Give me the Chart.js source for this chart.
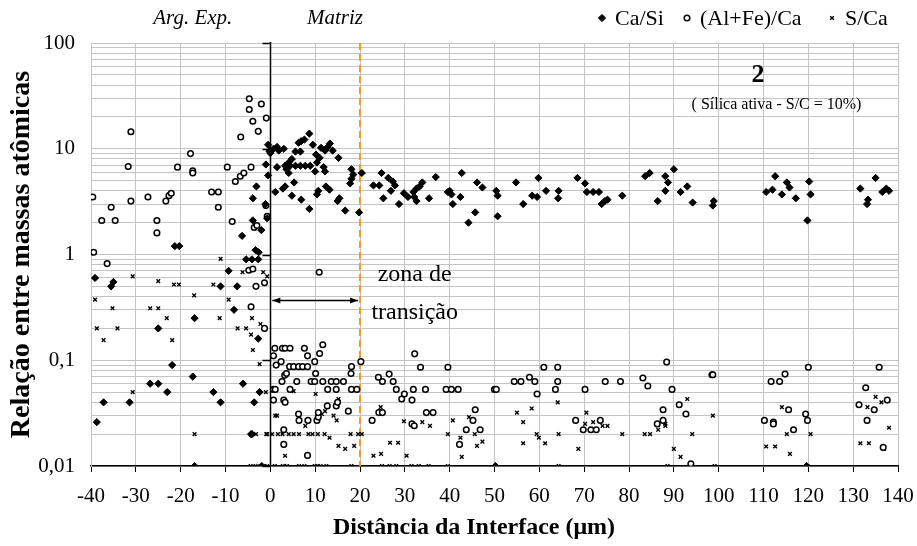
<!DOCTYPE html>
<html>
<head>
<meta charset="utf-8">
<script src="https://cdn.jsdelivr.net/npm/chart.js@4.4.1/dist/chart.umd.min.js"></script>
<style>
  html, body { margin: 0; padding: 0; background: #fff; }
</style>
</head>
<body>
<canvas id="chart" width="917" height="546"></canvas>
<script>
// Ca/Si (filled diamonds)
const caSiX = [-39.1,-38.7,-37.2,-35.5,-35,-31.4,-26.8,-25,-25,-23,-21.9,-21.3,-20.3,-17.3,-16.9,-16.9,-12.7,-11.1,-11.1,-9.3,-8.1,-7.4,-6.3,-6.1,-5.4,-4.1,-4.3,-4.1,-3.9,-3.9,-3.6,-3.3,-3.1,-2.7,-2.7,-2.6,-2.4,-2,-1.9,-1.1,-1,-0.7,-0.5,-0.5,-0.2,0,
  0.7,1.1,1.5,1.5,1.9,2.8,3,3.3,3.3,3.6,4.1,4.1,4.4,4.8,4.8,5.3,5.6,5.6,6.3,6.7,6.7,6.9,6.9,7.6,7.8,8.7,8.7,8.9,9.5,10,10.2,10.4,10.4,10.7,11,11.3,11.9,12.2,12.2,12.4,12.8,13.2,13.3,13.9,15,15.2,15.4,16.7,17.8,18.1,18.1,18.5,19.8,20.4,23,24.3,
  24.8,25.2,26.3,26.9,27.3,27.8,28.7,29.8,30.7,31.9,32.1,32.6,32.6,33.3,33.9,35.4,36.9,39.6,40,40.4,40.7,42.4,42.7,44.2,45.7,46.1,47.3,50.4,50.7,50.7,50.2,54.8,56.4,58.4,59.5,59.8,61.5,64.3,64.2,68.5,70.2,70.6,72,73.3,73.9,74.6,75.2,78.5,83.6,84.6,86.4,88.1,88.1,88.7,90,91.5,93,94.2,98.9,98.7,110.6,112,112.6,114.1,115.2,115.8,117.2,119.8,119.6,120.2,120.5,131.6,133.1,133.3,135,136.5,137.4,138];
const caSiY = [0.6,0.026,0.04,0.5,0.55,0.04,0.06,0.2,0.06,0.05,0.09,1.2,1.2,0.07,0.25,0.01,0.05,0.5,0.04,0.7,0.3,0.5,1.5,0.06,0.9,0.9,0.02,0.02,2.1,3.4,0.04,1.1,4.4,0.9,0.16,1.05,0.05,1.7,0.01,3.0,7.1,2.2,5.6,10.9,9.5,9.1,
  10,3.9,10.4,6.7,9.6,4.2,10,4.4,6.9,6.4,7.4,5.9,6.9,8,3.6,4.8,9.4,6.9,11.4,9.4,6.9,11.8,3.3,12.2,6.9,13.9,2.7,6.9,10.9,6.1,8.8,7.4,3.7,4.0,8.2,10.2,6.7,9.6,6.1,4.4,10.4,4.1,11.2,9.6,3.2,8.2,3.4,2.6,4.7,6.4,5.2,5.7,2.5,5.9,4.5,4.5,
  5.9,3.4,5.3,4.0,4.9,4.5,3.0,3.8,3.5,3.9,3.5,4.2,3.2,4.4,4.8,3.4,5.4,3.9,4.0,3.7,3.0,3.5,5.9,2.0,2.5,4.8,4.3,4.0,3.6,2.3,0.01,4.8,3.0,3.6,3.5,5.3,4.0,4.0,3.4,5.3,4.7,3.9,3.9,3.9,3.0,3.2,3.3,3.6,5.5,5.9,3.2,5.5,4.0,4.8,6.4,3.9,4.4,3.1,3.2,2.9,3.9,4.1,5.5,3.7,4.8,4.3,3.4,2.1,0.01,4.9,3.7,4.2,3.0,3.3,5.3,3.9,4.2,4.0];

// (Al+Fe)/Ca (open circles)
const alFeX = [-39.6,-39.4,-37.6,-36.4,-35.5,-34.6,-31.7,-31.1,-31.1,-27.3,-25.3,-25.3,-23.3,-22.6,-22.1,-20.7,-17.8,-17.3,-17.3,-13.1,-11.6,-11.6,-9.6,-8.5,-7.8,-6.7,-6.6,-5.9,-4.8,-4.7,-4.7,-4.3,-4.3,-3.9,-3.9,-3.6,-3.2,-3,-2.7,-2,-1.3,-1.3,-1,-0.9,-0.7,
  0.7,0.7,0.7,1,1.1,1.3,2.4,2.6,2.7,3,3,3,3.2,3.3,3.3,3.6,4.3,4.4,4.4,5.2,5.9,6.3,6.3,6.4,7.2,7.6,8.3,8.3,8.3,8.4,9.1,9.9,9.9,10.1,10.4,10.7,10.7,10.9,11,11.7,11.7,12.7,12.8,13.6,14.7,14.7,14.7,15,16.3,17.4,18,18.1,18.1,19.3,20.2,22.7,
  24.1,24.2,25,25,26.5,27.4,28.1,29.3,29.9,31.6,31.6,31.9,32.1,32.2,33.5,34.6,34.8,36.3,39.2,39.6,40.4,41.9,42.2,43.7,45.2,45.7,46.8,50,50.4,54.4,55.9,57.8,59,59.5,61,63.6,64.1,64.1,68.1,69.8,70.2,71.5,72.7,73.6,74.7,78.1,83.1,84.2,86.3,87.6,87.6,88.4,89.6,91.2,92.7,93.8,98.5,98.7,110.2,111.7,112.2,112.2,113.6,114.8,115.6,116.7,119.4,119.8,120,131.3,132.8,133.1,134.7,135.8,136.7,137.6];
const alFeY = [3.5,1.05,2.1,0.82,2.8,2.1,6.8,14.5,3.2,3.5,2.1,1.6,3.2,3.6,3.8,6.7,9.0,6.2,5.9,3.9,3.9,2.8,6.7,2.05,4.9,5.5,12.9,5.9,0.71,29.7,23.5,6.7,0.32,18.2,0.73,1.8,0.5,1.88,14.6,26.5,0.54,0.2,2.9,19.5,2.3,
  0.11,0.053,0.042,0.13,0.053,0.09,0.097,0.063,0.13,0.042,0.022,0.016,0.072,0.13,0.04,0.075,0.087,0.13,0.053,0.087,0.063,0.087,0.031,0.027,0.087,0.13,0.11,0.087,0.0126,0.027,0.063,0.097,0.063,0.075,0.027,0.029,0.032,0.68,0.116,0.14,0.063,0.037,0.053,0.063,0.063,0.053,0.037,0.04,0.063,0.033,0.075,0.087,0.053,0.053,0.097,0.027,
  0.069,0.032,0.063,0.032,0.074,0.063,0.053,0.043,0.048,0.042,0.025,0.053,0.024,0.115,0.086,0.053,0.032,0.032,0.053,0.086,0.053,0.053,0.016,0.022,0.027,0.034,0.022,0.053,0.053,0.063,0.063,0.069,0.063,0.048,0.086,0.053,0.086,0.063,0.027,0.022,0.053,0.022,0.022,0.027,0.063,0.063,0.068,0.057,0.025,0.034,0.027,0.096,0.053,0.038,0.031,0.0105,0.073,0.073,0.027,0.063,0.026,0.025,0.063,0.074,0.034,0.022,0.031,0.027,0.086,0.038,0.055,0.027,0.034,0.086,0.015,0.042];

// S/Ca (crosses)
const sCaX = [-39.1,-38.7,-37.2,-35.2,-34.1,-30.7,-30.7,-26.8,-25,-25,-23.1,-21.9,-21.5,-20.4,-17,-16.9,-12.7,-11.3,-11.1,-9.3,-7.3,-6.2,-5.4,-4.4,-4.3,-4.1,-3.9,-3.3,-3.2,-2.4,-2.2,-2.2,-1.6,-1.5,-1,-0.9,-0.7,-0.7,-0.7,
  0.4,1,1.1,1.5,1.7,2.7,2.8,3.3,3.7,4.1,5.2,5.2,6.4,6.4,7.6,7.8,8.1,8.5,9.4,9.9,10.1,10.4,10.4,10.6,11.2,11.5,12.1,12.2,12.5,13.2,14.1,14.8,15.2,15.2,16.7,17.9,18.1,18.7,19.6,20.4,
  23,24.6,24.7,24.9,26.6,26.7,28.1,28.5,29.8,30.4,31.5,33.1,33.9,35.3,35.6,39.6,39.6,40.7,42.4,42.7,44.3,45.6,46.1,47.3,50.2,55,56.4,56.4,58.3,59.4,59.9,61.3,64.1,64.3,64.3,68.7,70.2,70.5,72,74.1,75.2,78.5,83.5,84.7,86.5,88.1,88.1,88.6,90,91.5,93,94.1,98.7,99.1,110.6,112.6,114.1,115.2,115.9,116.7,119.8,120.5,131.6,133.2,133.5,135,136.3,136.9,138];
const sCaY = [0.375,0.2,0.155,0.31,0.2,0.62,0.05,0.31,0.56,0.31,0.25,0.155,0.52,0.52,0.41,0.02,0.52,0.25,0.91,0.375,0.2,0.68,0.2,0.01,0.175,0.25,0.125,0.01,0.02,0.092,0.22,0.01,0.68,0.01,0.05,0.02,0.62,0.02,0.01,
  0.02,0.01,0.03,0.03,0.02,0.02,0.01,0.0125,0.01,0.02,0.051,0.02,0.02,0.01,0.01,0.024,0.027,0.02,0.02,0.01,0.048,0.027,0.01,0.02,0.01,0.031,0.02,0.033,0.01,0.0185,0.03,0.027,0.043,0.0155,0.0145,0.02,0.01,0.0155,0.02,0.02,
  0.0125,0.036,0.013,0.01,0.01,0.0166,0.01,0.0166,0.0265,0.0125,0.01,0.01,0.026,0.01,0.024,0.02,0.01,0.027,0.0185,0.0122,0.029,0.02,0.0155,0.017,0.01,0.032,0.026,0.0164,0.035,0.02,0.0185,0.0164,0.04,0.02,0.01,0.0145,0.025,0.032,0.026,0.024,0.024,0.02,0.02,0.02,0.022,0.025,0.024,0.01,0.0145,0.0122,0.043,0.02,0.03,0.01,0.0153,0.0153,0.036,0.02,0.013,0.022,0.01,0.02,0.0164,0.036,0.0164,0.045,0.04,0.0145,0.023];

const seriesNames = ['Ca/Si', '(Al+Fe)/Ca', 'S/Ca'];
const yDecades = [0.01, 0.1, 1, 10, 100];
const yTickLabels = ['0,01', '0,1', '1', '10', '100'];

const FONT = '"Liberation Serif", "Times New Roman", serif';

function pts(xs, ys) {
  return xs.map((x, i) => ({ x: x, y: ys[i] }));
}

// log grid like Excel: 1..9 in every decade
function logGridValues() {
  const vals = [];
  for (let e = -2; e <= 1; e++) {
    for (let k = 1; k <= 9; k++) vals.push(Number((k * Math.pow(10, e)).toPrecision(3)));
  }
  vals.push(100);
  return vals;
}

const extras = {
  id: 'extras',
  beforeDatasetsDraw(chart) {
    const { ctx, chartArea } = chart;
    const xs = chart.scales.x, ys = chart.scales.y;
    ctx.save();
    // interface line at x = 0
    const x0 = Math.round(xs.getPixelForValue(0)) + 0.5;
    ctx.strokeStyle = '#000';
    ctx.lineWidth = 1.5;
    ctx.beginPath();
    ctx.moveTo(x0, chartArea.top - 1);
    ctx.lineTo(x0, chartArea.bottom);
    yDecades.forEach(v => {
      const py = Math.round(ys.getPixelForValue(v)) + 0.5;
      ctx.moveTo(x0 - 8, py);
      ctx.lineTo(x0, py);
    });
    ctx.stroke();
    // end of transition zone
    const x20 = xs.getPixelForValue(20);
    ctx.strokeStyle = '#f39c1f';
    ctx.lineWidth = 2;
    ctx.setLineDash([7, 4]);
    ctx.beginPath();
    ctx.moveTo(x20, chartArea.top);
    ctx.lineTo(x20, chartArea.bottom);
    ctx.stroke();
    ctx.setLineDash([]);
    // double arrow 0 -> 20
    const ay = Math.round(ys.getPixelForValue(0.37)) + 0.5;
    const a1 = xs.getPixelForValue(0) + 2, a2 = x20 - 2;
    ctx.strokeStyle = '#000';
    ctx.fillStyle = '#000';
    ctx.lineWidth = 1.3;
    ctx.beginPath();
    ctx.moveTo(a1, ay);
    ctx.lineTo(a2, ay);
    ctx.stroke();
    ctx.beginPath();
    ctx.moveTo(a1, ay); ctx.lineTo(a1 + 8, ay - 3); ctx.lineTo(a1 + 8, ay + 3); ctx.closePath();
    ctx.moveTo(a2, ay); ctx.lineTo(a2 - 8, ay - 3); ctx.lineTo(a2 - 8, ay + 3); ctx.closePath();
    ctx.fill();
    ctx.restore();
  },
  afterDraw(chart) {
    const { ctx, chartArea } = chart;
    const xs = chart.scales.x, ys = chart.scales.y;
    ctx.save();
    ctx.fillStyle = '#000';
    ctx.textAlign = 'center';
    ctx.textBaseline = 'middle';
    // zone labels on top
    ctx.font = 'italic 21px ' + FONT;
    ctx.fillText('Arg. Exp.', xs.getPixelForValue(-17.3), 18);
    ctx.fillText('Matriz', xs.getPixelForValue(14.4), 18);
    // transition zone text
    ctx.font = '24px ' + FONT;
    ctx.fillText('zona de', xs.getPixelForValue(32.2), ys.getPixelForValue(0.65));
    ctx.fillText('transição', xs.getPixelForValue(32.2), ys.getPixelForValue(0.28));
    // sample id
    ctx.font = 'bold 26px ' + FONT;
    ctx.fillText('2', xs.getPixelForValue(108.8), ys.getPixelForValue(49));
    ctx.font = '16px ' + FONT;
    ctx.fillText('( Sílica ativa - S/C = 10%)', xs.getPixelForValue(112.9), ys.getPixelForValue(26));
    // legend
    const legendX = [602, 687, 832];
    chart.data.datasets.forEach((ds, i) => {
      ctx.fillStyle = ds.backgroundColor;
      ctx.strokeStyle = ds.borderColor;
      ctx.lineWidth = ds.borderWidth;
      Chart.helpers.drawPoint(ctx, {
        pointStyle: ds.pointStyle,
        radius: ds.pointRadius,
        borderWidth: ds.borderWidth,
        rotation: 0
      }, legendX[i], 18);
    });
    ctx.fillStyle = '#000';
    ctx.font = '22px ' + FONT;
    ctx.textAlign = 'left';
    seriesNames.forEach((name, i) => ctx.fillText(name, legendX[i] + 13, 19));
    // axis titles
    ctx.textAlign = 'center';
    ctx.font = 'bold 24px ' + FONT;
    ctx.fillText('Distância da Interface (μm)', 474, 528);
    ctx.translate(22, (chartArea.top + chartArea.bottom) / 2);
    ctx.rotate(-Math.PI / 2);
    ctx.font = 'bold 28px ' + FONT;
    ctx.fillText('Relação entre massas atômicas', 0, 0);
    ctx.restore();
  }
};

const chart = new Chart(document.getElementById('chart'), {
  type: 'scatter',
  data: {
    datasets: [
      {
        label: seriesNames[0],
        data: pts(caSiX, caSiY),
        pointStyle: 'rectRot',
        pointRadius: 3.6,
        backgroundColor: '#000',
        borderColor: '#000',
        borderWidth: 1
      },
      {
        label: seriesNames[1],
        data: pts(alFeX, alFeY),
        pointStyle: 'circle',
        pointRadius: 2.8,
        backgroundColor: '#fff',
        borderColor: '#000',
        borderWidth: 1.5
      },
      {
        label: seriesNames[2],
        data: pts(sCaX, sCaY),
        pointStyle: 'crossRot',
        pointRadius: 2.6,
        backgroundColor: '#000',
        borderColor: '#000',
        borderWidth: 1.4
      }
    ]
  },
  options: {
    responsive: false,
    animation: false,
    devicePixelRatio: 1,
    layout: { padding: { left: 0, right: 19, top: 43, bottom: 0 } },
    plugins: {
      tooltip: { enabled: false },
      legend: { display: false }
    },
    scales: {
      x: {
        type: 'linear',
        min: -40,
        max: 140,
        ticks: {
          stepSize: 10,
          color: '#000',
          padding: 12,
          font: { family: FONT, size: 21 },
          maxRotation: 0,
          autoSkip: false
        },
        grid: { color: '#c4c4c4', lineWidth: 1, tickColor: '#000', tickLength: 6 },
        border: { color: '#000', width: 1.5 },
        afterFit(scale) {
          scale.height = 80;
          scale.paddingLeft = 0;
          scale.paddingRight = 0;
        }
      },
      y: {
        type: 'logarithmic',
        min: 0.01,
        max: 100,
        afterBuildTicks(scale) {
          scale.ticks = logGridValues().map(v => ({ value: v }));
        },
        ticks: {
          autoSkip: false,
          color: '#000',
          padding: 16,
          font: { family: FONT, size: 21 },
          callback(value) {
            const i = yDecades.findIndex(d => Math.abs(d - value) < d * 1e-6);
            return i >= 0 ? yTickLabels[i] : '';
          }
        },
        grid: { color: '#c4c4c4', lineWidth: 1, drawTicks: false },
        border: { color: '#c4c4c4', width: 1 },
        afterFit(scale) {
          scale.width = 91;
          scale.paddingTop = 0;
          scale.paddingBottom = 0;
        }
      }
    }
  },
  plugins: [extras]
});
</script>
</body>
</html>
